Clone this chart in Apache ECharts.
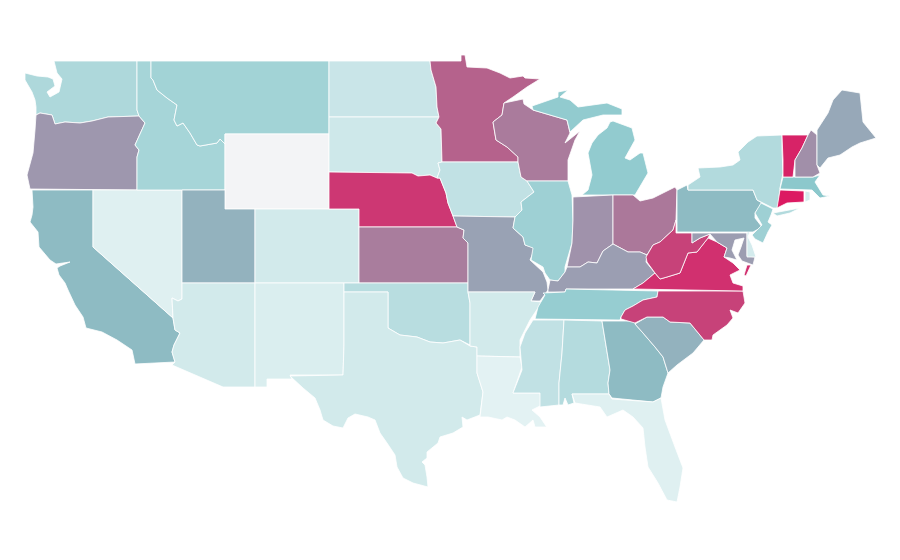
<!DOCTYPE html>
<html>
<head>
<meta charset="utf-8">
<title>US states</title>
<style>
html,body{margin:0;padding:0;background:#fff;}
#chart{width:900px;height:560px;}
</style>
<script src="https://cdn.jsdelivr.net/npm/echarts@6/dist/echarts.min.js"></script>
</head>
<body>
<div id="chart"></div>
<script>
// state values (Wyoming has none)
var stateNames = ["Washington","Oregon","California","Nevada","Idaho","Montana","Wyoming","Utah","Arizona","Colorado","New Mexico",
	"North Dakota","South Dakota","Nebraska","Kansas","Oklahoma","Texas","Minnesota","Iowa","Missouri","Arkansas","Louisiana",
	"Wisconsin","Illinois","Michigan","Indiana","Ohio","Kentucky","Tennessee","Mississippi","Alabama","Georgia","Florida",
	"South Carolina","North Carolina","Virginia","West Virginia","Maryland","Delaware","Pennsylvania","New Jersey","New York",
	"Connecticut","Rhode Island","Massachusetts","Vermont","New Hampshire","Maine"];
var stateValues = [12.3,60,31,1,14,15,null,40,4,4,2,
	6,5,92,70,10,4,80,8,52,4,0,
	70.6,16,18.6,62,72,55,17.7,8,11,31,1,
	40,89,94,89,56,3.4,31,16,11.4,
	100,3.4,20,97.5,63,48];

var scaleStops = [0,100];
var scaleColors = ['#e3f2f3','#b8dde0','#8cc8cc','#8dbcc4','#93b2be','#98a5b6','#9e97ae','#a97d9d','#b5628c','#c93e77','#dc1a62'];
var noDataColor = '#f3f4f6';

// state outlines, '|' separates the parts of a state
var stateOutlines = {
	"Washington":"54,61 137,61 137,110 139,116 108,117 92,121 80,123 65,122 55,124 52,115 40,113 36,115 36,107 35,100 32,92 25,80 25,73 37,76 48,77 53,79 55,86 47,92 50,97 59,92 62,79 57,73",
	"Oregon":"139,116 145,123 135,145 139,150 137,157 137,190 30,189 27,175 33,153 35,130 36,115 40,113 52,115 55,124 65,122 80,123 92,121 108,117",
	"California":"32,190 93,190 93,247 173,318 175,330 180,333 174,345 172,352 175,362 135,364 132,350 117,340 102,332 86,328 83,317 75,305 68,290 65,283 59,275 57,268 60,266 70,262 56,264 50,260 39,247 38,232 30,222 32,215 33,207",
	"Nevada":"93,190 182,190 182,299 178,301 172,298 173,318 93,247",
	"Idaho":"137,61 151,61 151,78 153,80 157,90 167,98 177,105 174,120 177,126 183,123 190,133 197,145 200,146 217,143 220,139 225,144 225,190 137,190 137,157 139,150 135,145 145,123 139,116 137,110",
	"Montana":"151,61 329,61 329,134 225,134 225,144 220,139 217,143 200,146 197,145 190,133 183,123 177,126 174,120 177,105 167,98 157,90 153,80 151,78",
	"Wyoming":"225,134 329,134 329,209 225,209",
	"Utah":"182,190 225,190 225,209 255,209 255,283 182,283",
	"Arizona":"182,283 255,283 255,387 223,387 172,365 175,362 172,352 174,345 180,333 175,330 173,318 172,298 178,301 182,299",
	"Colorado":"255,209 359,209 359,283 255,283",
	"New Mexico":"255,283 344,283 344,345 343,375 290,375 292,379 267,379 267,387 255,387",
	"North Dakota":"329,61 430,61 431,70 436,87 437,107 439,117 329,117",
	"South Dakota":"329,117 439,117 436,123 441,129 442,162 438,163 440,170 437,178 430,175 418,176 412,173 329,172",
	"Nebraska":"329,172 412,173 418,176 430,175 437,178 440,178 446,193 448,203 453,216 457,227 359,227 359,209 329,209",
	"Kansas":"359,227 457,227 464,230 463,238 468,243 468,283 359,283",
	"Oklahoma":"344,283 468,283 468,292 470,303 470,345 460,340 443,343 430,342 417,337 400,335 388,328 388,292 344,292",
	"Texas":"344,292 388,292 388,328 400,335 417,337 430,342 443,343 460,340 470,346 477,347 477,373 483,392 480,415 467,420 462,417 463,427 453,433 440,437 438,443 427,452 427,458 422,462 425,465 427,477 428,487 413,483 403,478 397,467 395,455 387,443 380,433 375,420 368,417 355,414 348,418 343,428 333,426 323,420 320,410 315,398 303,388 290,376 343,375 344,345",
	"Minnesota":"430,61 461,61 461,55 465,55 467,67 487,68 500,73 510,78 523,76 525,78 540,79 527,87 513,97 504,103 502,115 493,122 496,140 507,147 518,157 518,162 442,162 441,129 436,123 439,117 437,107 436,87 431,70",
	"Iowa":"442,162 518,162 521,177 527,181 534,192 521,202 522,210 515,217 453,216 448,203 446,193 440,178 437,178 440,170 438,163",
	"Missouri":"453,216 515,217 513,228 523,237 525,245 535,248 530,260 543,272 547,282 548,290 540,301 531,301 535,292 468,292 468,243 463,238 464,230 457,227",
	"Arkansas":"468,292 535,292 531,301 542,302 530,320 520,340 520,357 477,356 477,347 470,346 470,303",
	"Louisiana":"477,356 520,357 522,367 513,393 540,393 542,405 532,410 540,417 548,429 547,427 535,427 533,420 525,427 515,420 507,417 502,420 488,417 480,417 483,392 477,373",
	"Wisconsin":"504,103 523,99 524,104 533,110 567,120 570,133 565,143 580,131 575,140 568,160 568,181 527,181 521,177 518,162 518,157 507,147 496,140 493,122 502,115",
	"Illinois":"527,181 568,181 572,195 573,220 572,243 565,267 565,272 558,281 550,280 545,273 543,267 531,260 533,248 525,245 523,237 513,228 515,217 522,210 521,202 534,192",
	"Michigan":"532,106 558,97 558,92 568,90 560,97 570,100 578,107 607,103 622,109 622,115 603,115 583,120 570,132 567,120 533,110|610,122 613,121 632,128 635,140 625,158 630,160 640,153 643,153 648,173 635,195 613,195 582,195 588,190 592,175 588,153 592,143 598,135 607,128",
	"Indiana":"573,197 613,195 613,244 603,251 597,263 588,262 580,267 567,267 572,243 573,220",
	"Ohio":"613,195 633,195 640,201 653,198 675,187 677,190 676,220 673,230 660,242 653,245 647,255 640,252 628,252 613,244",
	"Kentucky":"548,292 565,292 566,289 633,289 643,283 655,273 646,262 647,255 640,252 628,252 613,244 603,251 597,263 588,262 580,267 567,267 565,272 558,281 550,280 548,290",
	"Tennessee":"543,293 565,292 566,289 658,291 657,297 643,300 633,306 625,310 621,317 620,320 535,319 538,307 545,295",
	"Mississippi":"533,320 564,320 562,353 559,383 559,405 540,407 540,393 513,393 522,370 520,347 525,333",
	"Alabama":"564,320 602,321 610,370 608,383 609,394 572,394 574,403 568,405 565,398 563,405 559,405 559,383 562,353",
	"Georgia":"602,321 635,321 635,324 643,333 655,347 663,357 668,373 663,387 661,398 653,402 612,398 609,394 608,383 610,370",
	"Florida":"572,394 609,394 612,399 653,402 661,398 665,420 675,447 683,468 680,487 677,502 667,500 658,483 648,467 645,447 643,428 633,417 623,410 607,417 600,407 575,403",
	"South Carolina":"635,324 647,317 663,317 670,322 690,323 704,340 693,353 677,365 668,373 663,357 655,347 643,333",
	"North Carolina":"658,291 743,291 745,303 738,313 730,310 733,318 727,325 713,335 712,340 704,340 690,323 670,322 663,317 647,317 635,323 621,319 621,317 625,310 633,306 643,300 657,297",
	"Virginia":"633,289 643,283 655,273 660,279 667,277 680,273 688,253 697,252 708,238 717,242 727,248 724,257 733,263 740,270 730,275 733,283 743,286 743,291|751,265 747,265 744,275 746,276",
	"West Virginia":"676,220 676,233 692,233 692,243 700,238 710,234 708,238 697,252 688,253 680,273 667,277 660,279 655,273 647,262 646,257 653,245 660,242 673,230",
	"Maryland":"692,233 747,233 747,256 755,257 753,265 742,261 738,255 741,247 744,238 735,240 732,250 737,260 730,258 724,257 727,248 717,242 710,234 700,238 692,243",
	"Delaware":"747,232 750,231 748,237 752,245 756,257 747,257",
	"Pennsylvania":"677,190 687,185 688,190 753,190 757,200 762,203 755,213 755,218 762,227 753,232 677,232",
	"New Jersey":"761,203 773,209 771,215 768,222 772,225 768,232 763,243 755,239 752,235 762,225 755,213",
	"New York":"688,190 688,185 700,177 698,168 720,167 733,165 740,160 738,152 748,142 757,136 782,135 782,150 783,173 780,188 778,208 773,208 763,203 757,200 753,190|773,213 800,208 790,213 777,216",
	"Connecticut":"780,190 804,191 804,202 787,203 777,208",
	"Rhode Island":"805,191 810,192 810,200 805,202",
	"Massachusetts":"783,177 813,177 820,175 815,182 823,195 830,196 820,198 812,190 780,189",
	"Vermont":"782,135 808,135 802,148 795,160 793,177 783,177 783,160",
	"New Hampshire":"811,130 817,135 817,165 820,173 813,177 795,177 795,160 802,148 808,135",
	"Maine":"817,130 828,113 833,100 842,90 860,93 863,122 876,138 860,143 852,147 840,155 828,158 820,168 817,165"
};

function toGeoJson(){
	var features = [];
	for(var i=0;i<stateNames.length;i++){
		var parts = stateOutlines[stateNames[i]].split('|').map(function(part){
			return [part.split(' ').map(function(pair){
				return pair.split(',').map(Number);
			})];
		});
		features.push({
			type:'Feature',
			properties:{name:stateNames[i]},
			geometry:{type:'MultiPolygon',coordinates:parts}
		});
	}
	return {type:'FeatureCollection',features:features};
}

echarts.registerMap('usStates',toGeoJson());

var seriesData = [];
for(var i=0;i<stateNames.length;i++){
	if(stateValues[i] !== null) seriesData.push({name:stateNames[i],value:stateValues[i]});
}

var myChart = echarts.init(document.getElementById('chart'));
myChart.setOption({
	animation:false,
	backgroundColor:'#fff',
	visualMap:{
		show:false,
		min:scaleStops[0],
		max:scaleStops[1],
		inRange:{color:scaleColors}
	},
	series:[{
		type:'map',
		map:'usStates',
		projection:{
			project:function(p){return p;},
			unproject:function(p){return p;}
		},
		aspectScale:1,
		left:25,
		top:55,
		width:851,
		height:447,
		roam:false,
		silent:true,
		selectedMode:false,
		label:{show:false},
		itemStyle:{areaColor:noDataColor,borderColor:'#fff',borderWidth:0.8},
		data:seriesData
	}]
});
</script>
</body>
</html>
